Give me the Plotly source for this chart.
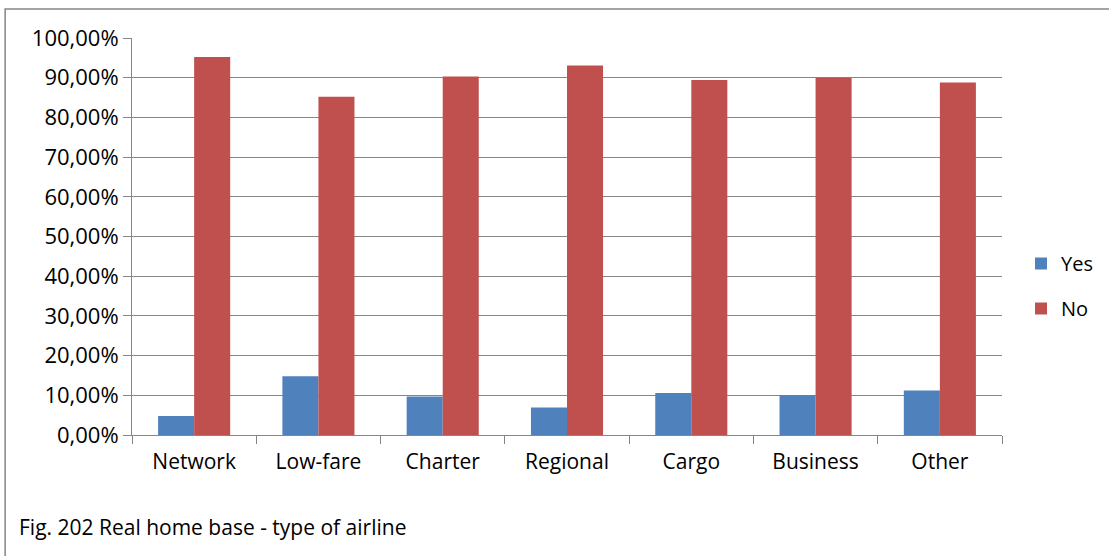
import plotly.graph_objects as go

# Data
categories = ["Network", "Low-fare", "Charter", "Regional", "Cargo", "Business", "Other"]
yes_share = [0.048, 0.148, 0.097, 0.069, 0.106, 0.100, 0.112]
no_share = [0.952, 0.852, 0.903, 0.931, 0.894, 0.900, 0.888]

W, H = 1109, 556
L, R, T, B = 132, 1003, 38, 435   # plot area in pixels

def px_x(p):
    return (p - L) / (R - L)

def px_y(p):
    return (B - p) / (B - T)

font = "Open Sans"

fig = go.Figure()
fig.add_trace(go.Bar(x=categories, y=yes_share, name="Yes",
                     marker=dict(color="#4F81BD", line=dict(width=0)),
                     legendgroup="yes"))
fig.add_trace(go.Bar(x=categories, y=no_share, name="No",
                     marker=dict(color="#C0504D", line=dict(width=0)),
                     legendgroup="no"))

fig.update_layout(
    width=W, height=H,
    margin=dict(l=L, r=W - R, t=T, b=H - B),
    paper_bgcolor="white", plot_bgcolor="white",
    separators=",.",
    barmode="group", bargap=0.42, bargroupgap=0,
    font=dict(family=font, size=21, color="#000000"),
    showlegend=True,
    legend=dict(x=px_x(1021), y=px_y(244), xanchor="left", yanchor="top",
                traceorder="grouped", tracegroupgap=16,
                font=dict(size=20), itemwidth=30, bgcolor="rgba(0,0,0,0)"),
    xaxis=dict(showline=True, linecolor="#868686", linewidth=1,
               ticks="outside", tickson="boundaries", ticklen=8,
               tickcolor="#868686", showgrid=False, fixedrange=True,
               ticklabelstandoff=8),
    yaxis=dict(range=[0, 1.0], dtick=0.1, tickformat=".2%",
               showgrid=True, gridcolor="#868686", gridwidth=1,
               showline=True, linecolor="#868686", linewidth=1,
               ticks="outside", ticklen=8, tickcolor="#868686",
               zeroline=False, fixedrange=True, tickfont=dict(size=22)),
    shapes=[dict(type="rect", xref="paper", yref="paper",
                 x0=px_x(5), x1=px_x(1130), y0=px_y(580), y1=px_y(9),
                 line=dict(color="#868686", width=1.5), layer="below")],
    annotations=[dict(text="Fig. 202 Real home base - type of airline",
                      xref="paper", yref="paper", x=px_x(17), y=px_y(527),
                      xanchor="left", yanchor="middle", showarrow=False,
                      font=dict(size=21))],
)

# remove the default page margin so the figure sits at the window origin
fig.write_html("out.html", config=dict(displayModeBar=False),
               post_script="document.body.style.margin='0';document.body.style.overflow='hidden';")
